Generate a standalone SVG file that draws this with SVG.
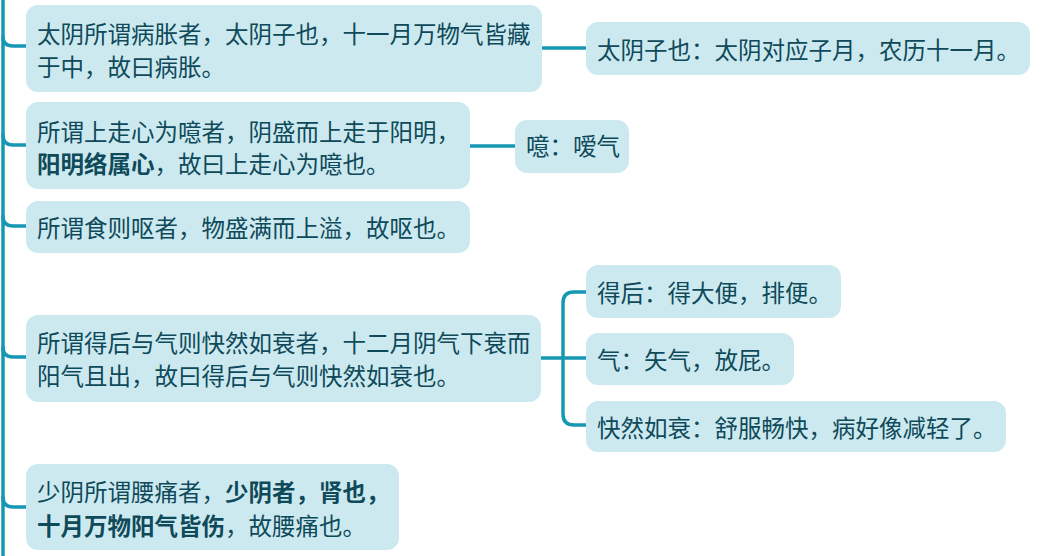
<svg xmlns="http://www.w3.org/2000/svg" width="1044" height="556" viewBox="0 0 1044 556">
<style>
.box{fill:#cde9f0;}
.t{font-family:"Noto Sans CJK SC","Noto Sans",sans-serif;font-size:23.5px;fill:#0e4a5a;}
.b{font-weight:bold;}
.ln{fill:none;stroke:#1697b4;stroke-width:3.5;stroke-linecap:round;}
</style>
<rect width="1044" height="556" fill="#ffffff"/>
<g id="connectors">
<path class="ln" d="M3,0 V556"/>
<path class="ln" d="M3,37 Q3,46 13,46 H26"/>
<path class="ln" d="M3,135 Q3,145 13,145 H26"/>
<path class="ln" d="M3,216 Q3,226 13,226 H26"/>
<path class="ln" d="M3,347 Q3,357 13,357 H26"/>
<path class="ln" d="M3,497 Q3,507 13,507 H26"/>
<path class="ln" d="M542,48 H586"/>
<path class="ln" d="M470,146 H515"/>
<path class="ln" d="M541,358 H586"/>
<path class="ln" d="M586,292 H574 Q563,292 563,303 V414 Q563,425 574,425 H586"/>
</g>
<g id="n1">
<rect class="box" x="26" y="5" width="516" height="87" rx="12"/>
<text class="t" x="37" y="43">太阴所谓病胀者，太阴子也，十一月万物气皆藏</text>
<text class="t" x="37" y="76">于中，故曰病胀。</text>
</g>
<g id="n2">
<rect class="box" x="26" y="102" width="444" height="87" rx="12"/>
<text class="t" x="37" y="141">所谓上走心为噫者，阴盛而上走于阳明，</text>
<text class="t" x="37" y="173"><tspan class="b">阳明络属心</tspan>，故曰上走心为噫也。</text>
</g>
<g id="n3">
<rect class="box" x="26" y="201" width="444" height="52" rx="12"/>
<text class="t" x="37" y="237">所谓食则呕者，物盛满而上溢，故呕也。</text>
</g>
<g id="n4">
<rect class="box" x="26" y="315" width="515" height="87" rx="12"/>
<text class="t" x="37" y="352">所谓得后与气则快然如衰者，十二月阴气下衰而</text>
<text class="t" x="37" y="385">阳气且出，故曰得后与气则快然如衰也。</text>
</g>
<g id="n5">
<rect class="box" x="26" y="464" width="373" height="86" rx="12"/>
<text class="t" x="37" y="501">少阴所谓腰痛者，<tspan class="b">少阴者，肾也，</tspan></text>
<text class="t" x="37" y="535"><tspan class="b">十月万物阳气皆伤</tspan>，故腰痛也。</text>
</g>
<g id="r1">
<rect class="box" x="586" y="22" width="444" height="53" rx="12"/>
<text class="t" x="597" y="59">太阴子也：太阴对应子月，农历十一月。</text>
</g>
<g id="r2">
<rect class="box" x="515" y="120" width="114" height="53" rx="12"/>
<text class="t" x="526" y="155">噫：嗳气</text>
</g>
<g id="r3">
<rect class="box" x="586" y="265" width="255" height="53" rx="12"/>
<text class="t" x="597" y="302">得后：得大便，排便。</text>
</g>
<g id="r4">
<rect class="box" x="586" y="333" width="208" height="52" rx="12"/>
<text class="t" x="597" y="369">气：矢气，放屁。</text>
</g>
<g id="r5">
<rect class="box" x="586" y="401" width="420" height="51" rx="12"/>
<text class="t" x="597" y="437">快然如衰：舒服畅快，病好像减轻了。</text>
</g>
</svg>
